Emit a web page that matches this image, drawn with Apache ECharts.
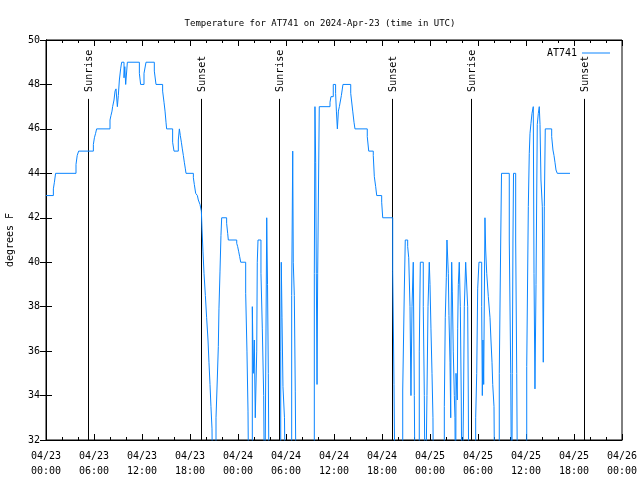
<!DOCTYPE html>
<html><head><meta charset="utf-8">
<script src="https://cdn.jsdelivr.net/npm/echarts@6/dist/echarts.min.js"></script>
<style>html,body{margin:0;padding:0;background:#fff}#c{width:640px;height:480px}</style>
</head><body><div id="c"></div>
<script>
// hours since 2024-04-23 00:00 UTC (value holds from that time until the next one)
const hours = [
0.00,0.92,1.05,1.2,3.75,3.9,4.08,5.92,6.05,6.2,6.33,8.0,8.12,8.25,8.33,8.5,8.63,8.75,8.92,9.04,9.17,9.33,9.46,9.75,9.85,9.96,10.17,11.67,11.83,12.25,12.5,13.54,13.75,14.58,14.75,14.88,15.0,15.08,15.83,16.0,16.54,16.67,16.79,16.92,17.04,17.17,17.29,17.42,17.5,18.42,18.54,18.71,18.92,19.04,19.25,19.42,19.5,19.62,19.75,19.92,20.08,20.25,20.37,20.5,20.62,20.75,20.87,
21.25,21.41,21.54,21.62,21.75,21.87,21.96,22.58,22.71,22.79,23.84,23.96,24.09,24.21,24.34,24.96,25.12,25.25,25.37,25.79,25.91,26.04,26.16,26.34,26.41,26.5,26.87,27.04,27.21,27.34,27.59,27.69,27.79,27.91,29.34,29.41,29.5,29.62,29.81,29.96,30.71,30.84,30.91,31.04,31.16,31.29,33.54,33.62,33.71,33.79,33.88,33.96,34.16,
35.5,35.62,35.91,36.2,36.3,36.42,36.55,36.67,36.92,37.12,38.09,38.34,38.5,38.62,40.16,40.34,40.91,41.04,41.21,41.34,41.96,42.09,43.34,43.5,43.66,
44.59,44.79,44.91,45.21,45.34,45.5,45.62,45.75,45.91,46.04,46.16,46.66,46.79,47.16,47.29,47.41,47.62,47.75,47.91,48.0,48.12,48.25,48.37,48.46,49.79,49.91,50.04,50.12,50.29,50.37,50.5,50.59,50.62,50.71,50.79,50.91,51.04,51.12,51.21,51.25,51.41,51.46,51.54,51.66,51.79,51.91,52.0,52.19,52.29,52.46,52.71,52.79,52.87,53.71,53.84,53.96,54.12,54.46,54.54,54.62,54.71,54.87,54.96,55.09,55.29,55.5,55.62,55.75,55.84,56.0,56.12,
56.66,56.84,56.94,57.91,58.09,58.21,58.29,58.37,58.44,58.71,58.84,58.96,60.09,60.29,60.41,60.5,60.62,60.75,60.91,61.0,61.12,61.25,61.41,61.54,61.66,61.75,61.87,62.04,62.16,62.29,62.41,63.21,63.37,63.5,63.62,63.75,63.91,65.5
];
const temps = [
43.0,43.3,43.6,44.0,44.4,44.8,45.0,45.3,45.6,45.8,46.0,46.4,46.6,46.8,47.0,47.3,47.7,47.8,47.0,47.5,48.2,48.7,49.0,48.3,48.8,48.0,49.0,48.5,48.0,48.5,49.0,48.6,48.0,47.7,47.2,46.8,46.3,46.0,45.4,45.0,45.5,46.0,45.7,45.4,45.1,44.8,44.5,44.2,44.0,43.8,43.5,43.1,43.0,42.8,42.6,42.3,41.5,40.5,39.5,38.5,37.5,36.5,35.5,34.5,33.5,32.5,28,
33.0,34.7,36.2,37.9,39.6,41.2,42.0,41.75,41.3,41.0,40.85,40.7,40.47,40.25,40.0,38.6,36.0,33.3,28,38.0,35.0,36.5,33.0,36.0,40.0,41.0,39.5,37.0,34.0,28,42.0,39.0,35.0,28,36.0,40.0,37.5,34.4,33.0,28,38.5,45.0,40.0,38.5,34.2,28,39.5,47.0,44.5,39.5,34.5,39.5,47.0,
47.2,47.45,48.0,47.6,46.8,46.0,46.8,47.0,47.5,48.0,47.6,46.8,46.3,46.0,45.65,45.0,44.8,43.85,43.4,43.0,42.7,42.0,39.6,34.5,28,
34.25,38.75,41.0,40.7,40.2,38.0,34.0,38.0,40.0,34.0,28,36.0,40.0,38.0,34.0,28,34.0,38.0,40.0,39.0,37.0,35.0,33.0,28,33.5,37.5,39.3,41.0,39.5,37.6,35.5,33.0,36.5,40.0,38.7,36.0,34.0,33.0,28,35.0,33.8,37.0,39.0,40.0,38.0,33.8,28,33.8,38.0,40.0,38.0,33.8,28,33.0,35.0,38.8,40.0,38.0,34.0,36.5,34.5,42.0,40.55,39.5,38.45,37.5,36.5,35.5,34.5,33.5,28,
35.0,41.0,44.0,41.0,35.0,28,35.0,41.0,44.0,41.0,35.0,28,35.3,42.5,44.9,45.8,46.25,46.7,47.0,39.5,34.3,39.0,46.2,46.7,47.0,46.2,43.7,42.5,35.5,42.5,46.0,45.65,45.05,44.8,44.5,44.15,44.0,44.0
];
const sunHours = [5.3, 19.42, 29.17, 43.29, 53.17, 67.25];
const sunLabels = ['Sunrise', 'Sunset', 'Sunrise', 'Sunset', 'Sunrise', 'Sunset'];
const sunLineTop = 47.35;
const seriesName = 'AT741';
const titleText = 'Temperature for AT741 on 2024-Apr-23 (time in UTC)';

const FONT = '"DejaVu Sans Mono", "Liberation Mono", monospace';
const BLUE = '#0a85ff';
const pad = n => (n < 10 ? '0' : '') + n;
const xFmt = v => '04/' + (23 + Math.floor(v / 24)) + '\n' + pad(v % 24) + ':00';

const chart = echarts.init(document.getElementById('c'), null, {renderer: 'canvas'});
const tickCommon = {inside: true, length: 6, lineStyle: {color: '#000', width: 1}};
const minorCommon = {show: true, splitNumber: 3, length: 3, lineStyle: {color: '#000', width: 1}};
const option = {
  animation: false,
  backgroundColor: '#fff',
  title: {text: titleText, left: 'center', top: 14,
    textStyle: {fontFamily: FONT, fontSize: 9, fontWeight: 'normal', color: '#000'}},
  legend: {data: [seriesName], right: 25, top: 43, align: 'right', icon: 'rect',
    itemWidth: 28, itemHeight: 1, textStyle: {fontFamily: FONT, fontSize: 10, color: '#000'}},
  grid: {left: 46, right: 18, top: 40, bottom: 40, show: true, borderColor: '#000', borderWidth: 1,
    containLabel: false, outerBoundsMode: 'none'},
  xAxis: [
    {type: 'value', min: 0, max: 72, interval: 6, position: 'bottom',
      axisLine: {show: true, lineStyle: {color: '#000'}},
      axisTick: tickCommon, minorTick: minorCommon, splitLine: {show: false},
      axisLabel: {formatter: xFmt, fontFamily: FONT, fontSize: 10, color: '#000', lineHeight: 15, margin: 9}},
    {type: 'value', min: 0, max: 72, interval: 6, position: 'top',
      axisLine: {show: true, lineStyle: {color: '#000'}},
      axisTick: tickCommon, minorTick: minorCommon, splitLine: {show: false},
      axisLabel: {show: false}}
  ],
  yAxis: [
    {type: 'value', min: 32, max: 50, interval: 2, position: 'left',
      name: 'degrees F', nameLocation: 'middle', nameGap: 31, nameRotate: 90,
      nameTextStyle: {fontFamily: FONT, fontSize: 10, color: '#000'},
      axisLine: {show: true, lineStyle: {color: '#000'}},
      axisTick: tickCommon, splitLine: {show: false},
      axisLabel: {fontFamily: FONT, fontSize: 10, color: '#000', margin: 6}},
    {type: 'value', min: 32, max: 50, interval: 2, position: 'right',
      axisLine: {show: true, lineStyle: {color: '#000'}},
      axisTick: tickCommon, splitLine: {show: false}, axisLabel: {show: false}}
  ],
  series: [
    {name: seriesName, type: 'line', step: 'end', symbol: 'none', clip: true,
      data: hours.map((h, i) => [h, temps[i]]),
      lineStyle: {color: BLUE, width: 1}, itemStyle: {color: BLUE}, z: 3},
    {type: 'custom', silent: true, z: 2,
      data: sunHours.map(h => [h, 32]),
      encode: {x: 0, y: 1},
      renderItem: (params, api) => {
        const h = api.value(0);
        const top = api.coord([h, sunLineTop]);
        const bot = api.coord([h, 32]);
        const x = Math.round(top[0]) + 0.5;
        return {type: 'group', children: [
          {type: 'line', shape: {x1: x, y1: top[1], x2: x, y2: bot[1]},
            style: {stroke: '#000', lineWidth: 1}},
          {type: 'text', x: x + 1, y: top[1] - 7, rotation: Math.PI / 2,
            style: {text: sunLabels[params.dataIndex], fill: '#000', fontSize: 10,
              fontFamily: FONT, align: 'left', verticalAlign: 'middle'}}
        ]};
      }}
  ]
};
chart.setOption(option);
</script></body></html>
